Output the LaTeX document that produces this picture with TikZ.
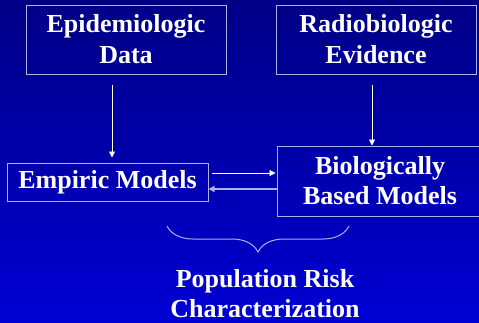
\documentclass[tikz,border=0pt]{standalone}
\usepackage{fontspec}
\setmainfont{Liberation Serif}
\usepackage{tikz}
\usetikzlibrary{arrows.meta,positioning,calc}
\usetikzlibrary{decorations.pathreplacing}

\definecolor{slidetop}{RGB}{0,0,134}
\definecolor{slidebot}{RGB}{0,0,212}
\definecolor{boxline}{RGB}{176,176,232}

\begin{document}
\begin{tikzpicture}[x=1pt, y=-1pt,
	every node/.style={font=\bfseries\fontsize{26}{30}\selectfont, text=white},
	box/.style={draw=boxline, line width=1pt, align=center, inner sep=0pt},
	link/.style={-{Triangle[length=6pt,width=6pt]}, white, line width=0.8pt},
	back/.style={-{Triangle[length=6pt,width=6pt]}, boxline, line width=1.5pt}]
\fill[top color=slidetop, bottom color=slidebot] (0,0) rectangle (479,322);
\useasboundingbox (0,0) rectangle (479,322);

\node[box, minimum width=200pt, minimum height=69pt] (epi) at (126,39.5) {Epidemiologic\\[1pt]Data};
\node[box, minimum width=200pt, minimum height=69pt] (radio) at (376,39.5) {Radiobiologic\\[1pt]Evidence};
\node[box, minimum width=201pt, minimum height=38pt] (emp) at (107.5,182) {Empiric Models};
\node[box, minimum width=206pt, minimum height=70pt] (bio) at (380,181) {Biologically\\Based Models};
\node[align=center, inner sep=0pt] (risk) at (265,294) {Population Risk\\Characterization};

\coordinate (bl) at (167,226);
\coordinate (br) at (349,226);

\path[link]
([xshift=-14pt,yshift=-10pt]epi.south) edge ([xshift=4.5pt,yshift=5pt]emp.north)
([xshift=-4pt]radio.south) edge[shorten <=10pt] ([xshift=-4pt]radio.south |- bio.north)
([yshift=9pt]emp.east) edge[shorten <=3pt, shorten >=1pt] ([yshift=9pt]emp.east -| bio.west);
\draw[back] ([yshift=-7pt]emp.east -| bio.west) -- ([yshift=-7pt]emp.east);

\draw[boxline, line width=1pt, decorate, decoration={brace, mirror, amplitude=26pt}] (bl) -- (br);
\end{tikzpicture}
\end{document}
